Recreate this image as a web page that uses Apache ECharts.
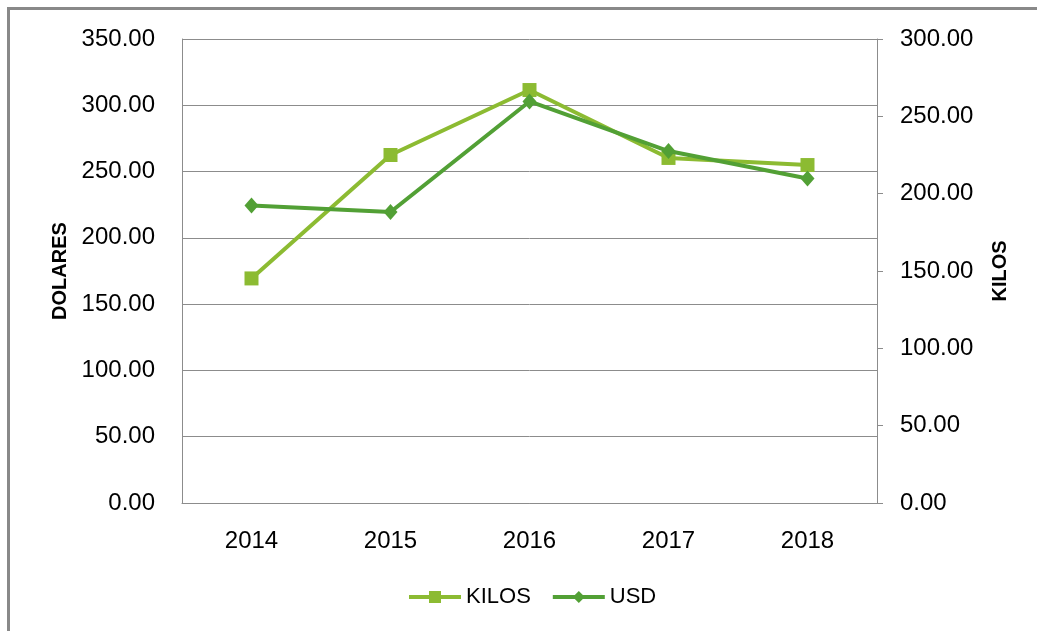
<!DOCTYPE html>
<html>
<head>
<meta charset="utf-8">
<script src="https://cdn.jsdelivr.net/npm/echarts@6/dist/echarts.min.js"></script>
<style>
html,body{margin:0;padding:0;background:#fff;}
#chart{width:1037px;height:631px;}
</style>
</head>
<body>
<div id="chart"></div>
<script>
var years = ['2014', '2015', '2016', '2017', '2018'];
var kilos = [145.2, 225.0, 267.0, 223.1, 218.5];
var usd = [224.4, 219.5, 302.9, 265.5, 244.8];
var leftTitle = 'DOLARES';
var rightTitle = 'KILOS';

var chart = echarts.init(document.getElementById('chart'), null, {renderer: 'canvas'});
var FONT = '"Liberation Sans", Arial, sans-serif';
var gridColor = '#8c8c8c';
chart.setOption({
  animation: false,
  backgroundColor: '#ffffff',
  textStyle: {fontFamily: FONT},
  graphic: [{
    type: 'rect',
    shape: {x: 8.5, y: 8.5, width: 1200, height: 800},
    style: {fill: 'none', stroke: '#898989', lineWidth: 3},
    silent: true
  }],
  grid: {left: 182, right: 160, top: 39, bottom: 128, containLabel: false},
  legend: {
    bottom: 18,
    left: 402,
    itemWidth: 52,
    itemHeight: 15,
    itemGap: 20,
    lineStyle: {width: 4},
    textStyle: {fontFamily: FONT, fontSize: 22, color: '#000'},
    data: ['KILOS', 'USD']
  },
  xAxis: {
    type: 'category',
    data: years,
    boundaryGap: true,
    axisLine: {show: true, lineStyle: {color: gridColor, width: 1}},
    axisTick: {show: false},
    axisLabel: {fontFamily: FONT, fontSize: 24, color: '#000', margin: 26}
  },
  yAxis: [{
    type: 'value',
    min: 0, max: 350, interval: 50,
    name: leftTitle,
    nameLocation: 'middle',
    nameRotate: 90,
    nameGap: 108,
    nameTextStyle: {fontFamily: FONT, fontSize: 20, fontWeight: 'bold', color: '#000'},
    axisLine: {show: true, lineStyle: {color: gridColor, width: 1}},
    axisTick: {show: false},
    splitLine: {show: true, lineStyle: {color: gridColor, width: 1}},
    axisLabel: {fontFamily: FONT, fontSize: 24, color: '#000', margin: 27,
      formatter: function (v) { return v.toFixed(2); }}
  }, {
    type: 'value',
    min: 0, max: 300, interval: 50,
    position: 'right',
    name: rightTitle,
    nameLocation: 'middle',
    nameRotate: 90,
    nameGap: 113,
    nameTextStyle: {fontFamily: FONT, fontSize: 20, fontWeight: 'bold', color: '#000'},
    axisLine: {show: true, lineStyle: {color: gridColor, width: 1}},
    axisTick: {show: true, inside: false, length: 6, lineStyle: {color: gridColor}},
    splitLine: {show: false},
    axisLabel: {fontFamily: FONT, fontSize: 24, color: '#000', margin: 23,
      formatter: function (v) { return v.toFixed(2); }}
  }],
  series: [{
    name: 'KILOS',
    type: 'line',
    yAxisIndex: 1,
    data: kilos,
    symbol: 'rect',
    symbolSize: 14,
    lineStyle: {color: '#8cbb32', width: 4},
    itemStyle: {color: '#8cbb32'},
    z: 2
  }, {
    name: 'USD',
    type: 'line',
    yAxisIndex: 0,
    data: usd,
    symbol: 'diamond',
    symbolSize: [14, 16],
    lineStyle: {color: '#52a035', width: 4},
    itemStyle: {color: '#52a035'},
    z: 3
  }]
});
</script>
</body>
</html>
